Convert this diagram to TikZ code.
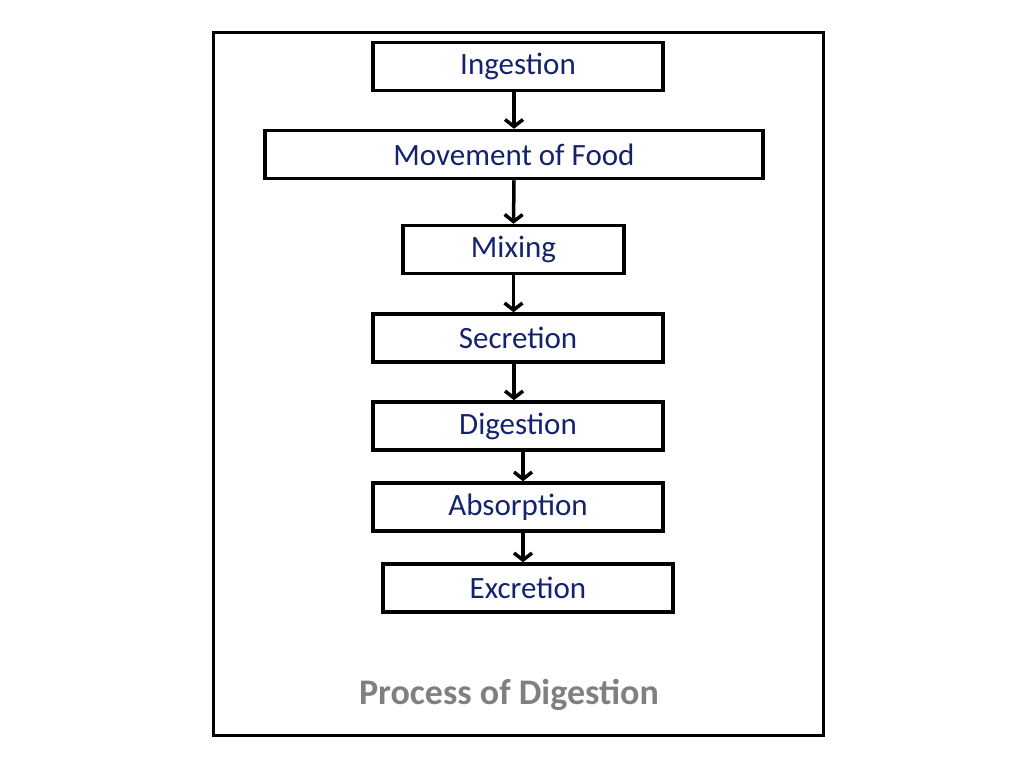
\documentclass[tikz,border=0pt]{standalone}
\usepackage{fontspec}
\setmainfont{Carlito}
\usetikzlibrary{arrows.meta}
\definecolor{navy}{RGB}{20,35,110}
\definecolor{ttl}{RGB}{128,128,128}
\begin{document}
\begin{tikzpicture}[x=1pt,y=-1pt,
  stepbox/.style={draw=black,line width=3.5pt,inner sep=0pt,minimum height=48pt,text=navy,font=\fontsize{31}{31}\selectfont},
  flow/.style={line width=3.5pt,-{Straight Barb[length=7pt,width=18pt]}}]
\useasboundingbox (0,0) rectangle (1024,768);
\draw[line width=3pt] (213,33) rectangle (823,735);
\node[stepbox,minimum width=290pt] (ing) at (518,66.5) {Ingestion};
\node[stepbox,minimum width=498pt] (mov) at (514,154.5) {Movement of Food};
\node[stepbox,minimum width=221pt] (mix) at (513.5,249.5) {Mixing};
\node[stepbox,minimum width=290pt] (sec) at (518,338) {Secretion};
\node[stepbox,minimum width=290pt] (dig) at (518,426) {Digestion};
\node[stepbox,minimum width=290pt] (abs) at (518,507) {Absorption};
\node[stepbox,minimum width=290pt] (exc) at (528,588) {Excretion};
\node[text=ttl,font=\bfseries\fontsize{36}{36}\selectfont] (title) at (509,695) {Process of Digestion};
\draw[flow] ([xshift=-4pt]ing.south) -- ([xshift=0pt]mov.north);
\draw[flow] (mov.south) -- (mix.north);
\draw[flow] (mix.south) -- ([xshift=-4.5pt]sec.north);
\draw[flow] ([xshift=-4pt]sec.south) -- ([xshift=-4pt]dig.north);
\draw[flow] ([xshift=5pt]dig.south) -- ([xshift=5pt]abs.north);
\draw[flow] ([xshift=5pt]abs.south) -- ([xshift=-5pt]exc.north);
\end{tikzpicture}
\end{document}
